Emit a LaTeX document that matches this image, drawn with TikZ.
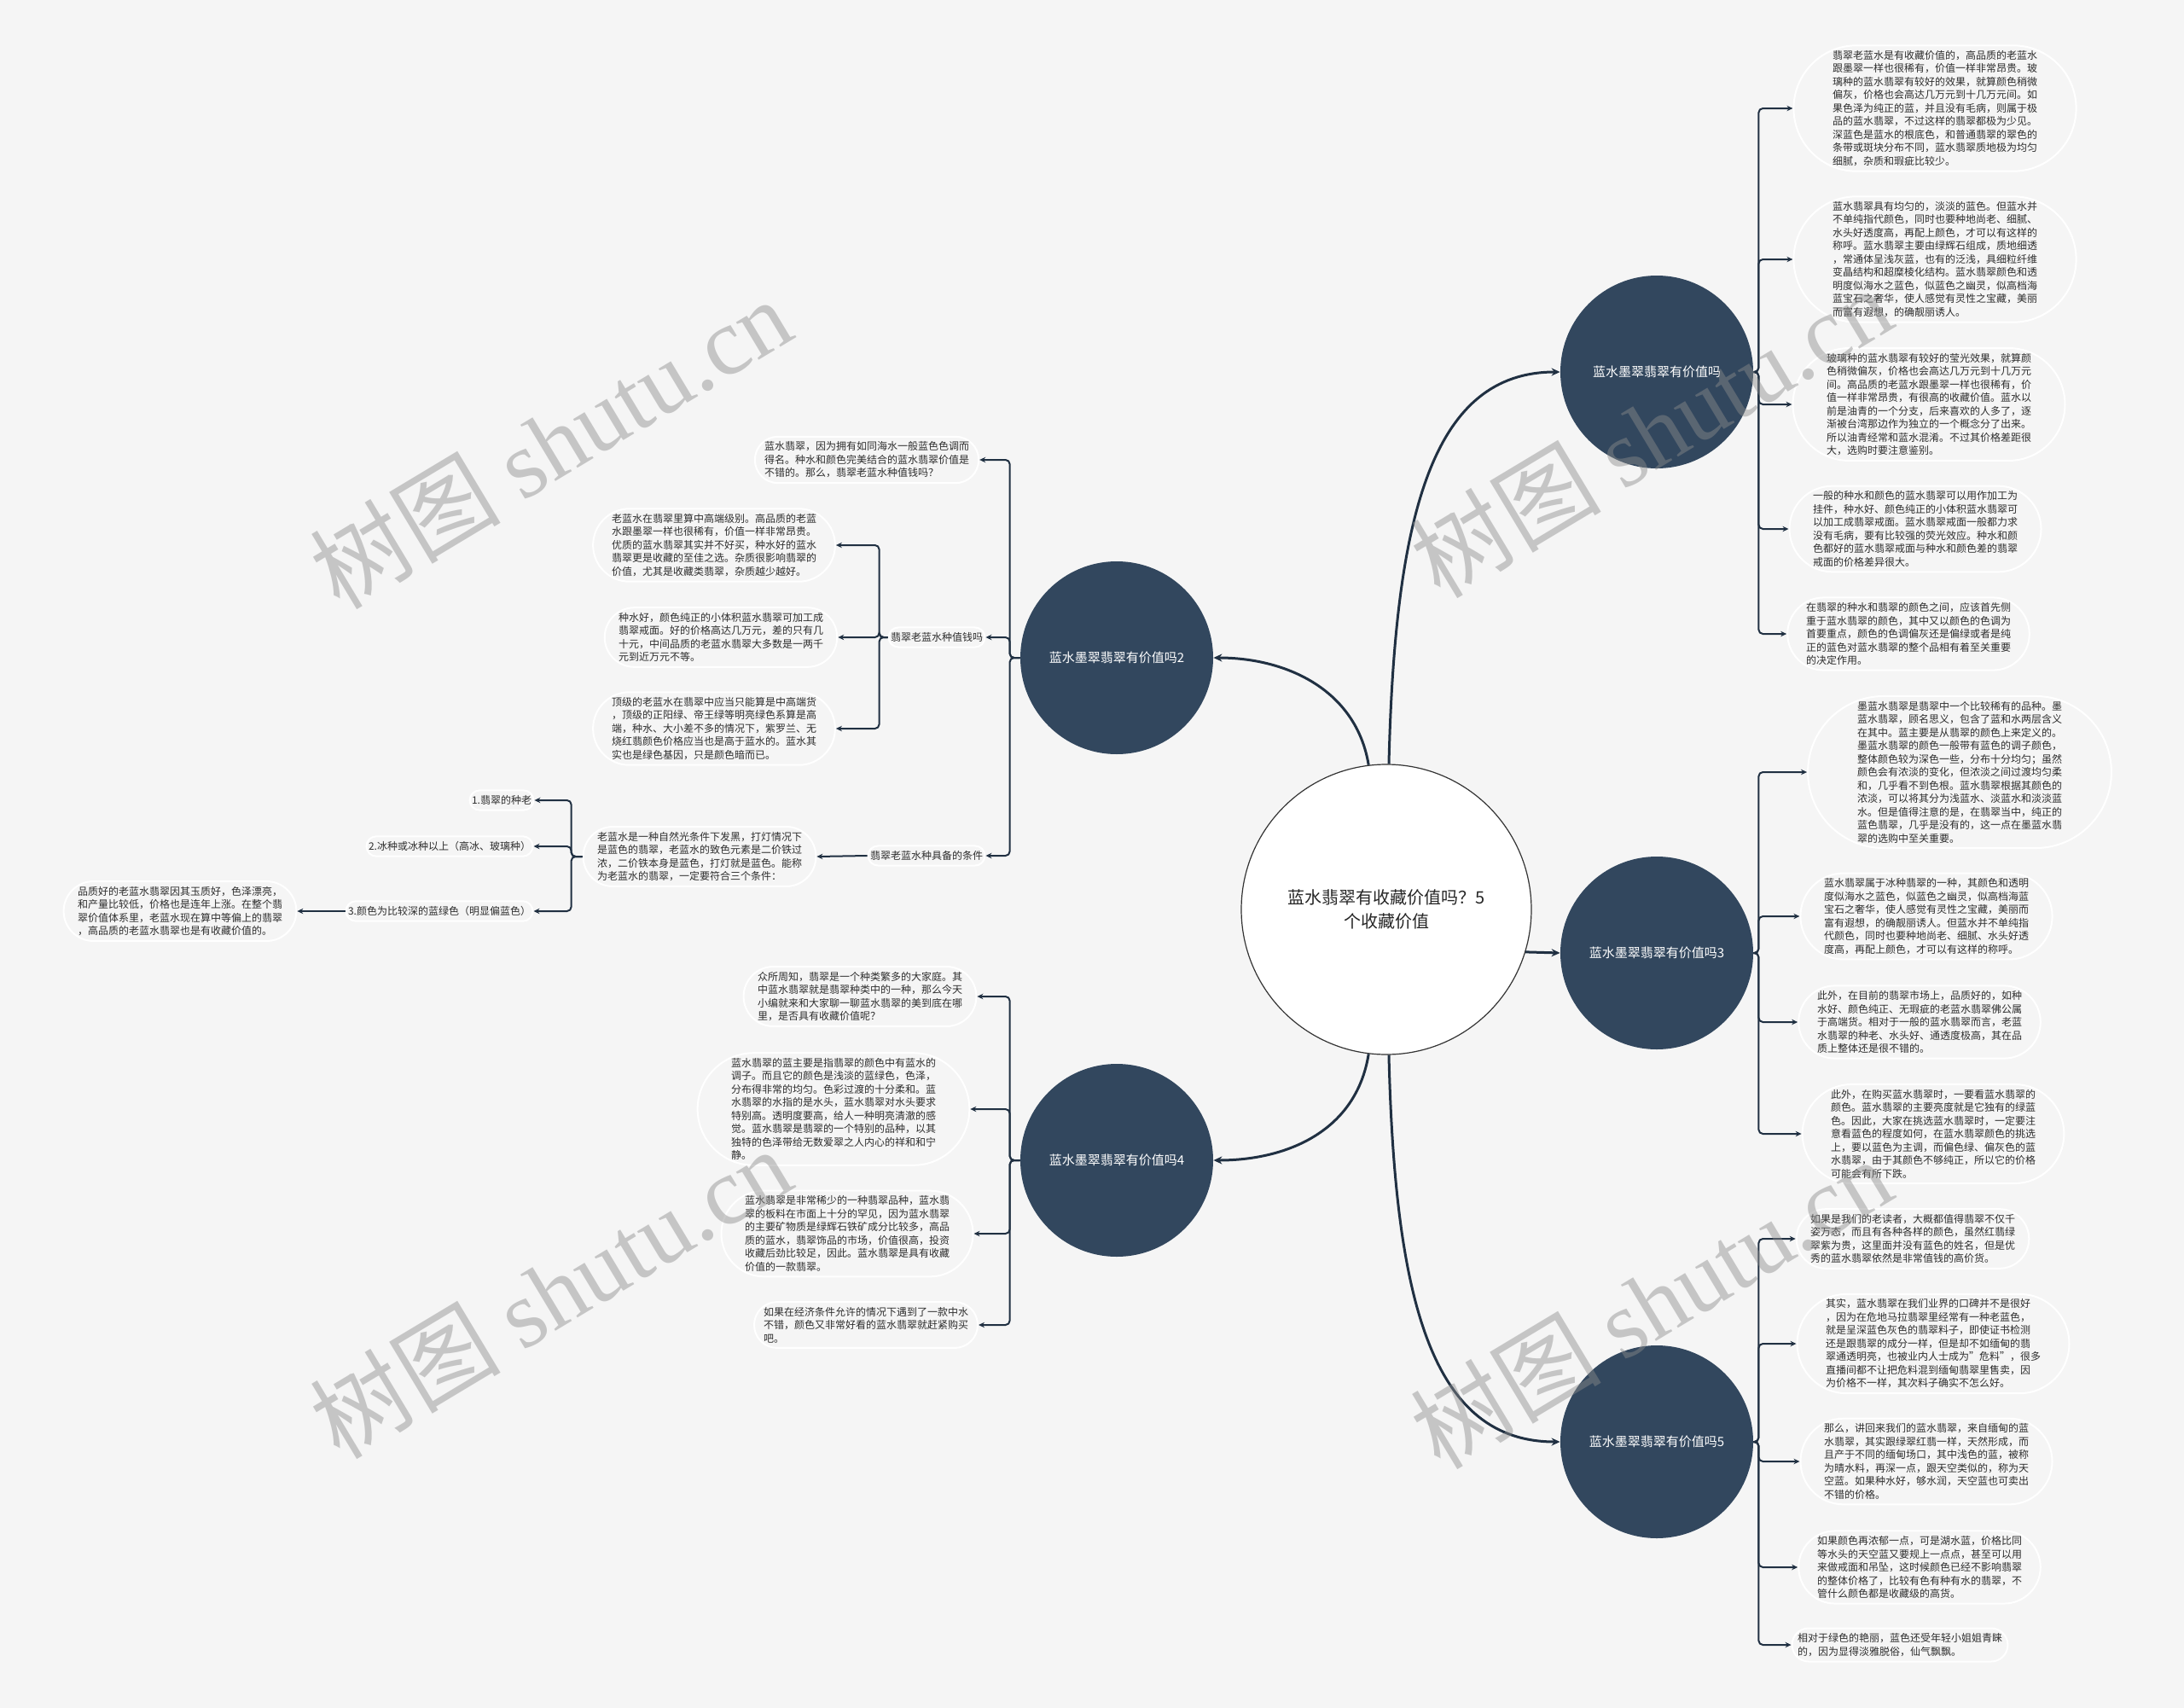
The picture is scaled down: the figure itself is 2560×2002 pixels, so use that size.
\documentclass[tikz,border=0pt]{standalone}
\usepackage{fontspec}
\setmainfont{Noto Sans CJK SC}
\newfontfamily\wmserif{Liberation Serif}
\usetikzlibrary{shapes.misc,arrows.meta}
\definecolor{bgc}{RGB}{245,245,245}
\definecolor{navy}{RGB}{50,71,94}
\definecolor{linec}{RGB}{32,48,66}
\definecolor{txt}{RGB}{45,45,45}
\begin{document}
\begin{tikzpicture}[x=0.5pt,y=-0.5pt,
 pill/.style={rounded rectangle, draw=white, line width=1pt, inner xsep=0.5pt, inner ysep=3pt, align=left, text=txt, font=\fontsize{6pt}{7.75pt}\selectfont},
 branch/.style={circle, fill=navy, minimum size=113pt, inner sep=0pt, text=white, font=\fontsize{7.5pt}{9pt}\selectfont},
 rootnode/.style={circle, draw=black!80, line width=0.6pt, fill=white, minimum size=170pt, inner sep=0pt, align=center, text=black!85, font=\fontsize{10pt}{13.85pt}\selectfont},
 mainconn/.style={draw=linec, line width=1.5pt, -{Stealth[length=5pt,width=4.5pt]}},
 conn/.style={draw=linec, line width=1pt, rounded corners=2.5pt, -{Stealth[length=3.5pt,width=3.2pt]}},
 wm/.style={text=black!45, opacity=0.45, rotate=31, font=\fontsize{56pt}{60pt}\selectfont}]
\fill[bgc] (0,0) rectangle (2560,2002);
\useasboundingbox (0,0) rectangle (2560,2002);

% root and branches
\node[rootnode] (root) at (1625,1066) {蓝水翡翠有收藏价值吗？5\\个收藏价值};
\node[branch] (n1) at (1942,436) {蓝水墨翠翡翠有价值吗};
\node[branch] (n2) at (1309,771) {蓝水墨翠翡翠有价值吗2};
\node[branch] (n3) at (1942,1117) {蓝水墨翠翡翠有价值吗3};
\node[branch] (n4) at (1309,1360) {蓝水墨翠翡翠有价值吗4};
\node[branch] (n5) at (1942,1690) {蓝水墨翠翡翠有价值吗5};

\draw[mainconn] (root.89) .. controls (1635,600) and (1680,436) .. (n1.west);
\draw[mainconn] (root.97) .. controls (1590,810) and (1510,771) .. (n2.east);
\draw[mainconn] (root.-17) -- (n3.west);
\draw[mainconn] (root.263) .. controls (1590,1325) and (1510,1360) .. (n4.east);
\draw[mainconn] (root.271) .. controls (1635,1530) and (1680,1690) .. (n5.west);

% branch 1
\node[pill] (r1a) at (2268,127) {翡翠老蓝水是有收藏价值的，高品质的老蓝水\\跟墨翠一样也很稀有，价值一样非常昂贵。玻\\璃种的蓝水翡翠有较好的效果，就算颜色稍微\\偏灰，价格也会高达几万元到十几万元间。如\\果色泽为纯正的蓝，并且没有毛病，则属于极\\品的蓝水翡翠，不过这样的翡翠都极为少见。\\深蓝色是蓝水的根底色，和普通翡翠的翠色的\\条带或斑块分布不同，蓝水翡翠质地极为均匀\\细腻，杂质和瑕疵比较少。};
\node[pill] (r1b) at (2268,304) {蓝水翡翠具有均匀的，淡淡的蓝色。但蓝水并\\不单纯指代颜色，同时也要种地尚老、细腻、\\水头好透度高，再配上颜色，才可以有这样的\\称呼。蓝水翡翠主要由绿辉石组成，质地细透\\，常通体呈浅灰蓝，也有的泛浅，具细粒纤维\\变晶结构和超糜棱化结构。蓝水翡翠颜色和透\\明度似海水之蓝色，似蓝色之幽灵，似高档海\\蓝宝石之奢华，使人感觉有灵性之宝藏，美丽\\而富有遐想，的确靓丽诱人。};
\node[pill] (r1c) at (2261,474) {玻璃种的蓝水翡翠有较好的莹光效果，就算颜\\色稍微偏灰，价格也会高达几万元到十几万元\\间。高品质的老蓝水跟墨翠一样也很稀有，价\\值一样非常昂贵，有很高的收藏价值。蓝水以\\前是油青的一个分支，后来喜欢的人多了，逐\\渐被台湾那边作为独立的一个概念分了出来。\\所以油青经常和蓝水混淆。不过其价格差距很\\大，选购时要注意鉴别。};
\node[pill] (r1d) at (2245,620) {一般的种水和颜色的蓝水翡翠可以用作加工为\\挂件，种水好、颜色纯正的小体积蓝水翡翠可\\以加工成翡翠戒面。蓝水翡翠戒面一般都力求\\没有毛病，要有比较强的荧光效应。种水和颜\\色都好的蓝水翡翠戒面与种水和颜色差的翡翠\\戒面的价格差异很大。};
\node[pill] (r1e) at (2237,743) {在翡翠的种水和翡翠的颜色之间，应该首先侧\\重于蓝水翡翠的颜色，其中又以颜色的色调为\\首要重点，颜色的色调偏灰还是偏绿或者是纯\\正的蓝色对蓝水翡翠的整个品相有着至关重要\\的决定作用。};
\foreach \c in {r1a,r1b,r1c,r1d,r1e} \draw[conn] (n1.east) -- ++(6,0) |- (\c.west);

% branch 3
\node[pill] (r3a) at (2297,905) {墨蓝水翡翠是翡翠中一个比较稀有的品种。墨\\蓝水翡翠，顾名思义，包含了蓝和水两层含义\\在其中。蓝主要是从翡翠的颜色上来定义的。\\墨蓝水翡翠的颜色一般带有蓝色的调子颜色，\\整体颜色较为深色一些，分布十分均匀；虽然\\颜色会有浓淡的变化，但浓淡之间过渡均匀柔\\和，几乎看不到色根。蓝水翡翠根据其颜色的\\浓淡，可以将其分为浅蓝水、淡蓝水和淡淡蓝\\水。但是值得注意的是，在翡翠当中，纯正的\\蓝色翡翠，几乎是没有的，这一点在墨蓝水翡\\翠的选购中至关重要。};
\node[pill] (r3b) at (2258,1074) {蓝水翡翠属于冰种翡翠的一种，其颜色和透明\\度似海水之蓝色，似蓝色之幽灵，似高档海蓝\\宝石之奢华，使人感觉有灵性之宝藏，美丽而\\富有遐想，的确靓丽诱人。但蓝水并不单纯指\\代颜色，同时也要种地尚老、细腻、水头好透\\度高，再配上颜色，才可以有这样的称呼。};
\node[pill] (r3c) at (2250,1198) {此外，在目前的翡翠市场上，品质好的，如种\\水好、颜色纯正、无瑕疵的老蓝水翡翠佛公属\\于高端货。相对于一般的蓝水翡翠而言，老蓝\\水翡翠的种老、水头好、通透度极高，其在品\\质上整体还是很不错的。};
\node[pill] (r3d) at (2266,1329) {此外，在购买蓝水翡翠时，一要看蓝水翡翠的\\颜色。蓝水翡翠的主要亮度就是它独有的绿蓝\\色。因此，大家在挑选蓝水翡翠时，一定要注\\意看蓝色的程度如何，在蓝水翡翠颜色的挑选\\上，要以蓝色为主调，而偏色绿、偏灰色的蓝\\水翡翠，由于其颜色不够纯正，所以它的价格\\可能会有所下跌。};
\foreach \c in {r3a,r3b,r3c,r3d} \draw[conn] (n3.east) -- ++(6,0) |- (\c.west);

% branch 5
\node[pill] (r5a) at (2242,1452) {如果是我们的老读者，大概都值得翡翠不仅千\\姿万态，而且有各种各样的颜色，虽然红翡绿\\翠紫为贵，这里面并没有蓝色的姓名，但是优\\秀的蓝水翡翠依然是非常值钱的高价货。};
\node[pill] (r5b) at (2266,1575) {其实，蓝水翡翠在我们业界的口碑并不是很好\\，因为在危地马拉翡翠里经常有一种老蓝色，\\就是呈深蓝色灰色的翡翠料子，即使证书检测\\还是跟翡翠的成分一样，但是却不如缅甸的翡\\翠通透明亮，也被业内人士成为"危料"，很多\\直播间都不让把危料混到缅甸翡翠里售卖，因\\为价格不一样，其次料子确实不怎么好。};
\node[pill] (r5c) at (2258,1713) {那么，讲回来我们的蓝水翡翠，来自缅甸的蓝\\水翡翠，其实跟绿翠红翡一样，天然形成，而\\且产于不同的缅甸场口，其中浅色的蓝，被称\\为晴水料，再深一点，跟天空类似的，称为天\\空蓝。如果种水好，够水润，天空蓝也可卖出\\不错的价格。};
\node[pill] (r5d) at (2250,1837) {如果颜色再浓郁一点，可是湖水蓝，价格比同\\等水头的天空蓝又要规上一点点，甚至可以用\\来做戒面和吊坠，这时候颜色已经不影响翡翠\\的整体价格了，比较有色有种有水的翡翠，不\\管什么颜色都是收藏级的高货。};
\node[pill] (r5e) at (2227,1928) {相对于绿色的艳丽，蓝色还受年轻小姐姐青睐\\的，因为显得淡雅脱俗，仙气飘飘。};
\foreach \c in {r5a,r5b,r5c,r5d,r5e} \draw[conn] (n5.east) -- ++(6,0) |- (\c.west);

% branch 2
\node[pill] (l2a) at (1016,539) {蓝水翡翠，因为拥有如同海水一般蓝色色调而\\得名。种水和颜色完美结合的蓝水翡翠价值是\\不错的。那么，翡翠老蓝水种值钱吗？};
\node[pill] (l2b) at (1098,747) {翡翠老蓝水种值钱吗};
\node[pill] (l2c) at (1086,1003) {翡翠老蓝水种具备的条件};
\foreach \c in {l2a,l2b,l2c} \draw[conn] (n2.west) -- ++(-12,0) |- (\c.east);

\node[pill] (l2b1) at (837,639) {老蓝水在翡翠里算中高端级别。高品质的老蓝\\水跟墨翠一样也很稀有，价值一样非常昂贵。\\优质的蓝水翡翠其实并不好买，种水好的蓝水\\翡翠更是收藏的至佳之选。杂质很影响翡翠的\\价值，尤其是收藏类翡翠，杂质越少越好。};
\node[pill] (l2b2) at (845,747) {种水好，颜色纯正的小体积蓝水翡翠可加工成\\翡翠戒面。好的价格高达几万元，差的只有几\\十元，中间品质的老蓝水翡翠大多数是一两千\\元到近万元不等。};
\node[pill] (l2b3) at (837,854) {顶级的老蓝水在翡翠中应当只能算是中高端货\\，顶级的正阳绿、帝王绿等明亮绿色系算是高\\端，种水、大小差不多的情况下，紫罗兰、无\\烧红翡颜色价格应当也是高于蓝水的。蓝水其\\实也是绿色基因，只是颜色暗而已。};
\foreach \c in {l2b1,l2b2,l2b3} \draw[conn] (l2b.west) -- ++(-10,0) |- (\c.east);

\node[pill] (lc) at (820,1004) {老蓝水是一种自然光条件下发黑，打灯情况下\\是蓝色的翡翠，老蓝水的致色元素是二价铁过\\浓，二价铁本身是蓝色，打灯就是蓝色。能称\\为老蓝水的翡翠，一定要符合三个条件：};
\draw[conn] (l2c.west) -- (lc.east);

\node[pill] (lc1) at (588,938) {1.翡翠的种老};
\node[pill] (lc2) at (527,992) {2.冰种或冰种以上（高冰、玻璃种）};
\node[pill] (lc3) at (515,1068) {3.颜色为比较深的蓝绿色（明显偏蓝色）};
\foreach \c in {lc1,lc2,lc3} \draw[conn] (lc.west) -- ++(-13,0) |- (\c.east);

\node[pill] (lc3a) at (211,1068) {品质好的老蓝水翡翠因其玉质好，色泽漂亮，\\和产量比较低，价格也是连年上涨。在整个翡\\翠价值体系里，老蓝水现在算中等偏上的翡翠\\，高品质的老蓝水翡翠也是有收藏价值的。};
\draw[conn] (lc3.west) -- (lc3a.east);

% branch 4
\node[pill] (l4a) at (1008,1168) {众所周知，翡翠是一个种类繁多的大家庭。其\\中蓝水翡翠就是翡翠种类中的一种，那么今天\\小编就来和大家聊一聊蓝水翡翠的美到底在哪\\里，是否具有收藏价值呢？};
\node[pill] (l4b) at (977,1300) {蓝水翡翠的蓝主要是指翡翠的颜色中有蓝水的\\调子。而且它的颜色是浅淡的蓝绿色，色泽，\\分布得非常的均匀。色彩过渡的十分柔和。蓝\\水翡翠的水指的是水头，蓝水翡翠对水头要求\\特别高。透明度要高，给人一种明亮清澈的感\\觉。蓝水翡翠是翡翠的一个特别的品种，以其\\独特的色泽带给无数爱翠之人内心的祥和和宁\\静。};
\node[pill] (l4c) at (993,1446) {蓝水翡翠是非常稀少的一种翡翠品种，蓝水翡\\翠的板料在市面上十分的罕见，因为蓝水翡翠\\的主要矿物质是绿辉石铁矿成分比较多，高品\\质的蓝水，翡翠饰品的市场，价值很高，投资\\收藏后劲比较足，因此。蓝水翡翠是具有收藏\\价值的一款翡翠。};
\node[pill] (l4d) at (1015,1553) {如果在经济条件允许的情况下遇到了一款中水\\不错，颜色又非常好看的蓝水翡翠就赶紧购买\\吧。};
\foreach \c in {l4a,l4b,l4c,l4d} \draw[conn] (n4.west) -- ++(-12,0) |- (\c.east);

% watermarks
\node[wm] (wm1) at (645,519) {树图 {\wmserif shutu.cn}};
\node[wm] (wm2) at (1935,506) {树图 {\wmserif shutu.cn}};
\node[wm] (wm3) at (645,1515) {树图 {\wmserif shutu.cn}};
\node[wm] (wm4) at (1935,1527) {树图 {\wmserif shutu.cn}};
\end{tikzpicture}
\end{document}
